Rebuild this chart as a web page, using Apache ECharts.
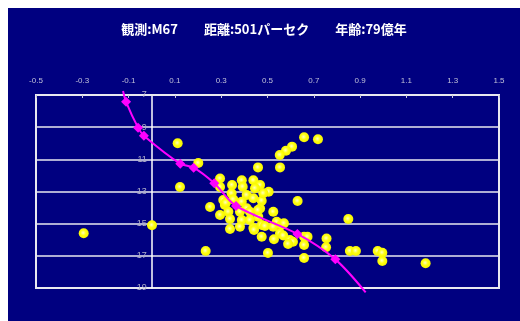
<!DOCTYPE html>
<html>
<head>
<meta charset="UTF-8">
<title>M67</title>
<style type="text/css">
	body { margin: 8px 0 0 8px; background: #fff; }
	#chart { width: 512px; height: 313px; background: #000080; }
</style>
</head>
<body>
<div id="chart"></div>
<script src="https://cdn.jsdelivr.net/npm/echarts@6/dist/echarts.min.js"></script>
<script type="text/javascript">
// 星のデータ (色指数, 等級)
var starX = [-0.294, 0.001, 0.112, 0.122, 0.201, 0.233, 0.658, 0.718, 0.606, 0.580,
	0.553, 0.459, 0.554, 0.295, 0.295, 0.347, 0.389, 0.439, 0.468, 0.505,
	0.393, 0.446, 0.345, 0.410, 0.309, 0.352, 0.389, 0.439, 0.475, 0.482,
	0.252, 0.316, 0.410, 0.468, 0.295, 0.331, 0.381, 0.424, 0.460, 0.525,
	0.338, 0.389, 0.424, 0.475, 0.381, 0.439, 0.540, 0.338, 0.442, 0.489,
	0.525, 0.561, 0.571, 0.554, 0.568, 0.597, 0.610, 0.589, 0.475, 0.528,
	0.502, 0.630, 0.658, 0.673, 0.658, 0.755, 0.753, 0.658, 0.849, 0.856,
	0.882, 0.976, 0.996, 0.996, 1.183, 0.320, 0.459];
var starY = [15.60, 15.10, 10.00, 12.72, 11.23, 16.70, 9.63, 9.75, 10.21, 10.46,
	10.73, 11.50, 11.50, 12.19, 12.72, 12.60, 12.30, 12.30, 12.60, 13.01,
	12.70, 12.80, 13.11, 13.22, 13.53, 13.49, 13.63, 13.42, 13.57, 13.11,
	13.96, 13.84, 14.04, 14.06, 14.46, 14.26, 14.26, 14.26, 14.57, 14.26,
	14.71, 14.77, 14.77, 15.08, 15.19, 15.27, 14.88, 15.33, 15.39, 15.15,
	15.19, 15.08, 14.98, 15.60, 15.74, 16.02, 16.12, 16.26, 15.81, 15.97,
	16.82, 13.59, 15.81, 15.81, 16.33, 15.92, 16.47, 17.13, 14.71, 16.70,
	16.70, 16.70, 16.81, 17.32, 17.46, 13.70, 14.15];

// 等時曲線
var curveX = [-0.124, -0.111, -0.059, -0.034, 0.123, 0.181, 0.270, 0.364, 0.629, 0.793, 0.924];
var curveY = [6.75, 7.42, 9.03, 9.53, 11.27, 11.52, 12.49, 13.90, 15.64, 17.22, 19.27];

var titleText = '観測:M67\u3000\u3000距離:501パーセク\u3000\u3000年齢:79億年';

var xMin = -0.5, xMax = 1.5;
var gridLeft = 28, gridRight = 21, chartW = 512;

var stars = [];
for (var i = 0; i < starX.length; i++) {
	stars.push([starX[i], starY[i]]);
}
var curve = [];
for (var j = 0; j < curveX.length; j++) {
	var pt = { value: [curveX[j], curveY[j]] };
	if (j === 0 || j === curveX.length - 1) {
		pt.symbol = 'none';
	}
	curve.push(pt);
}

// y軸を x=0 の位置に置く
var plotW = chartW - gridLeft - gridRight;
var yAxisOffset = -plotW * (0 - xMin) / (xMax - xMin);

var myChart = echarts.init(document.getElementById('chart'));
myChart.setOption({
	backgroundColor: '#000080',
	animation: false,
	title: {
		text: titleText,
		left: 'center',
		top: 10,
		textStyle: {
			color: '#fff',
			fontSize: 13,
			fontWeight: 'bold',
			fontFamily: 'Noto Sans CJK JP'
		}
	},
	grid: {
		left: gridLeft,
		top: 87,
		right: gridRight,
		bottom: 33,
		show: true,
		borderColor: '#e8e8f0',
		borderWidth: 2
	},
	xAxis: {
		type: 'value',
		position: 'top',
		min: xMin,
		max: xMax,
		interval: 0.2,
		axisLine: { show: true, onZero: false, lineStyle: { color: '#e8e8f0', width: 2 } },
		axisTick: { show: true, inside: true, length: 3, lineStyle: { color: '#c8c8d8' } },
		axisLabel: {
			color: '#c0c0d8',
			fontSize: 8,
			fontFamily: 'Arial',
			margin: 10,
			formatter: function (v) {
				return (Math.round(v * 10) / 10).toString();
			}
		},
		splitLine: { show: false }
	},
	yAxis: {
		type: 'value',
		inverse: true,
		min: 7,
		max: 19,
		interval: 2,
		position: 'left',
		offset: yAxisOffset,
		axisLine: { show: true, onZero: false, lineStyle: { color: '#ffffff', width: 1.5 } },
		axisTick: { show: false },
		axisLabel: {
			color: '#b0b0c8',
			fontSize: 9,
			fontFamily: 'Arial',
			margin: 5
		},
		splitLine: { show: true, lineStyle: { color: '#e8e8f0', width: 1.5 } }
	},
	series: [
		{
			type: 'scatter',
			data: stars,
			symbolSize: 10,
			itemStyle: {
				opacity: 1,
				color: {
					type: 'radial', x: 0.45, y: 0.45, r: 0.55,
					colorStops: [
						{ offset: 0, color: '#ffffc0' },
						{ offset: 0.5, color: '#ffff10' },
						{ offset: 1, color: '#f4f400' }
					]
				}
			},
			z: 2
		},
		{
			type: 'line',
			data: curve,
			smooth: 0.3,
			clip: false,
			symbol: 'diamond',
			symbolSize: 10,
			lineStyle: { color: '#ff00ff', width: 2 },
			itemStyle: { color: '#ff00ff', opacity: 1 },
			z: 3
		}
	]
});
</script>
</body>
</html>
